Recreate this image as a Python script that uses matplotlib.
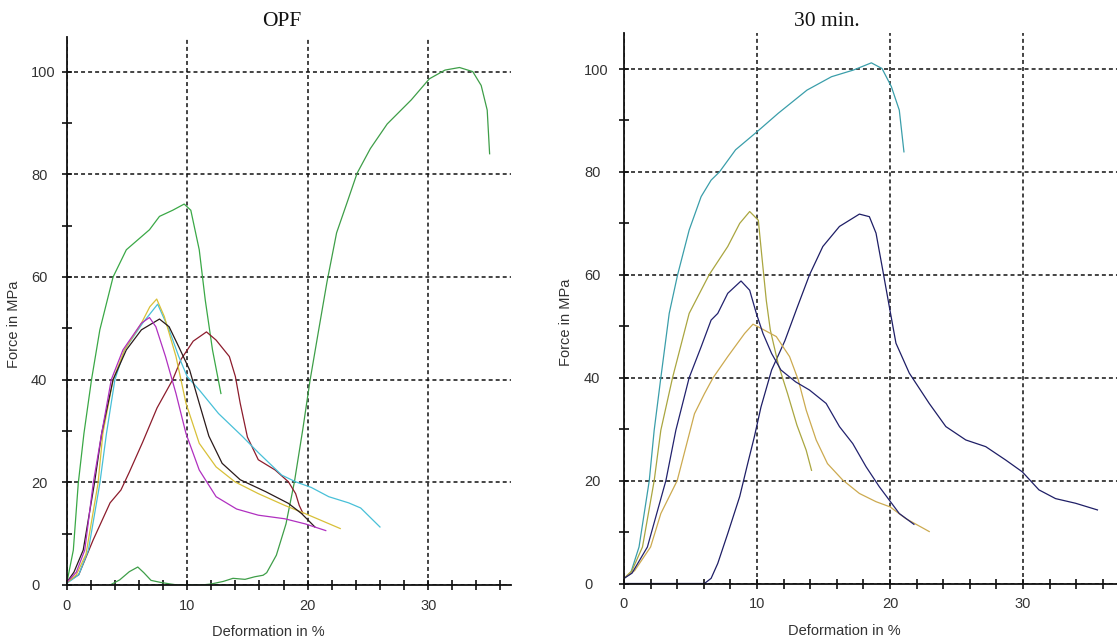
import matplotlib
matplotlib.use("Agg")
import matplotlib.pyplot as plt
from matplotlib.ticker import FixedLocator, NullFormatter

# ---------------- OPF panel ----------------
opf_green_a_x = [0, 0.55, 0.96, 1.43, 2.06, 2.75, 3.85, 4.95, 6.87, 7.7, 8.8, 9.75, 10.3, 11.0, 11.5, 12.1, 12.8]
opf_green_a_y = [0.3, 6.8, 19.8, 29.5, 40, 49.7, 60, 65.3, 69.2, 71.8, 73, 74.2, 73, 65.3, 55.5, 45.8, 37.3]

opf_green_b_x = [3.6, 4.4, 5.2, 5.9, 6.4, 7.0, 7.8, 8.6, 9.2, 11.2, 12.0, 13.0, 13.8, 14.8, 15.6, 16.3,
                 16.6, 17.4, 18.2, 18.9, 19.6, 20.2, 20.9, 21.6, 22.4, 23.3, 24.1, 25.2, 26.6, 28.6,
                 30.1, 31.4, 32.6, 33.7, 34.4, 34.9, 35.1]
opf_green_b_y = [0, 1.0, 2.6, 3.5, 2.4, 0.9, 0.5, 0.2, 0, 0, 0.2, 0.7, 1.3, 1.1, 1.6, 1.9,
                 2.4, 5.8, 11.9, 20.1, 30.4, 39.9, 49.5, 59, 68.6, 74.7, 80.2, 85, 89.8, 94.5,
                 98.6, 100.3, 100.8, 100, 97.3, 92.5, 84]

opf_black_x = [0, 0.6, 1.37, 2.3, 2.9, 3.85, 4.95, 6.2, 7.7, 8.5, 9.3, 10.2, 11.0, 11.8, 12.9, 14.4,
               16.5, 18.4, 19.5, 20.6]
opf_black_y = [0.5, 2.5, 6.8, 19.8, 29.5, 40, 45.8, 49.7, 51.8, 50.3, 46.4, 41.9, 35.4, 29, 23.7, 20.5,
               18.2, 15.9, 13.9, 11.3]

opf_magenta_x = [0, 0.8, 1.5, 2.2, 2.9, 3.7, 4.67, 6.2, 6.87, 7.4, 8.2, 9.07, 9.9, 11.0, 12.4, 14.1,
                 15.9, 18.1, 19.8, 21.5]
opf_magenta_y = [0.5, 2.5, 6.8, 19.8, 29.5, 40, 45.8, 51, 52.1, 50.3, 44.5, 37.3, 29.5, 22.4, 17.2, 14.8,
                 13.6, 12.9, 11.9, 10.6]

opf_yellow_x = [0, 0.8, 1.6, 2.6, 3.0, 3.85, 4.8, 6.2, 6.9, 7.47, 8.1, 9.07, 9.9, 11.0, 12.4, 13.96,
                15.9, 18.1, 19.8, 22.7]
opf_yellow_y = [0.4, 2.0, 6.0, 19.8, 29.5, 40, 45.8, 51, 54.2, 55.7, 52.3, 44.5, 35.4, 27.6, 23, 20.1,
                17.8, 15.5, 13.9, 11.0]

opf_cyan_x = [0, 1.0, 1.8, 2.75, 3.3, 4.0, 4.8, 6.3, 7.55, 8.5, 9.3, 10.0, 11.0, 12.6, 14.6, 15.9,
              17.85, 19.0, 20.3, 21.75, 23.4, 24.4, 26.0]
opf_cyan_y = [0.3, 2.0, 6.8, 19.8, 29.5, 40, 45.8, 51, 54.7, 49.7, 44.5, 40.6, 38, 33.4, 28.9, 25.8,
              21.4, 20.1, 19.0, 17.2, 16.0, 15.0, 11.3]

opf_red_x = [0, 1.0, 2.2, 3.6, 4.5, 5.2, 6.3, 7.5, 8.8, 9.5, 10.5, 11.6, 12.4, 13.5, 14.0, 14.4,
             15.0, 15.9, 17.3, 18.4, 19.0, 19.3, 19.6]
opf_red_y = [0.5, 2.0, 8.8, 16, 18.5, 22, 27.8, 34.5, 40, 44, 47.5, 49.3, 47.7, 44.5, 40.6, 35.4,
             28.8, 24.4, 22.4, 20.1, 17.8, 15.5, 14.0]

# ---------------- 30 min. panel ----------------
m30_teal_x = [0, 0.5, 1.13, 1.9, 2.27, 2.77, 3.4, 4.03, 4.9, 5.8, 6.55, 7.18, 8.39, 10.0, 11.6, 13.76,
              15.6, 17.25, 18.6, 19.4, 20.1, 20.7, 21.05]
m30_teal_y = [1.0, 2.0, 7.1, 20, 29.8, 40, 52.5, 60, 68.7, 75.2, 78.4, 80.0, 84.3, 87.8, 91.4, 95.9,
              98.5, 99.8, 101.2, 100.1, 96.6, 92, 83.9]

m30_olive_x = [0, 0.6, 1.39, 2.27, 2.77, 3.65, 4.9, 6.4, 7.8, 8.7, 9.45, 10.1, 10.35, 10.7, 11.0,
               11.6, 12.3, 13.0, 13.7, 14.1]
m30_olive_y = [1.0, 2.5, 7.1, 20, 29.8, 40, 52.5, 60, 65.5, 70, 72.3, 70.6, 64, 55, 49.3,
               42.6, 36.9, 30.8, 25.9, 22.0]

m30_navy_a_x = [0, 0.6, 1.76, 3.15, 3.9, 4.9, 5.8, 6.55, 7.05, 7.8, 8.8, 9.45, 9.95, 10.45, 11.1, 11.8,
                12.9, 13.95, 15.2, 16.2, 17.2, 18.2, 19.2, 19.95, 20.7, 21.8]
m30_navy_a_y = [1.0, 2.0, 7.1, 20, 29.8, 40, 46, 51.2, 52.5, 56.4, 58.8, 57, 52.5, 48.6, 44.7, 41.5,
                39.2, 37.6, 35, 30.5, 27.2, 22.7, 18.8, 16.2, 13.6, 11.5]

m30_tan_x = [0, 0.8, 2.0, 2.77, 4.0, 4.66, 5.3, 6.05, 6.7, 7.8, 9.07, 9.7, 10.3, 11.45, 12.45, 13.1,
             13.7, 14.45, 15.3, 16.45, 17.7, 18.95, 20.0, 21.2, 22.95]
m30_tan_y = [1.0, 2.5, 7.1, 13.6, 20, 26.6, 33, 36.9, 40, 44.1, 48.6, 50.4, 49.6, 48, 44.1, 39.6,
             33.7, 27.9, 23.3, 20.1, 17.5, 15.9, 14.9, 12.6, 10.1]

m30_navy_b_x = [0, 6.05, 6.55, 7.05, 7.8, 8.7, 9.3, 9.8, 10.3, 11.1, 12.1, 13.0, 13.95, 14.95, 16.2,
                17.7, 18.45, 18.95, 19.45, 19.95, 20.45, 21.45, 22.95, 24.2, 25.7, 27.2, 28.7, 29.95,
                31.2, 32.45, 33.95, 35.6]
m30_navy_b_y = [0, 0, 1, 3.9, 9.7, 16.9, 23.3, 28.5, 34.3, 41.5, 47.2, 53.5, 60, 65.5, 69.4,
                71.8, 71.3, 68.1, 61, 53.8, 46.7, 40.9, 35, 30.5, 27.9, 26.6, 24, 21.7,
                18.2, 16.5, 15.6, 14.3]

x_major = [0, 10, 20, 30]
x_minor = list(range(2, 38, 2))
y_major = [0, 20, 40, 60, 80, 100]
y_minor = [10, 30, 50, 70, 90]

W, H = 1117, 641
fig = plt.figure(figsize=(W / 100, H / 100), dpi=100)

SANS = "Liberation Sans"
SERIF = "Liberation Serif"
TXT = "#333333"
LW = 0.9


def px_axes(x0, x1, y_top, y_bot):
    return fig.add_axes([x0 / W, (H - y_bot) / H, (x1 - x0) / W, (y_bot - y_top) / H])


def style(ax, xmax, ymax, ylab_pad):
    ax.set_xlim(0, xmax)
    ax.set_ylim(0, ymax)
    for s in ("top", "right"):
        ax.spines[s].set_visible(False)
    for s in ("left", "bottom"):
        ax.spines[s].set_linewidth(1.3)
        ax.spines[s].set_color("#111111")
    ax.xaxis.set_major_locator(FixedLocator(x_major))
    ax.xaxis.set_minor_locator(FixedLocator([v for v in x_minor if v not in x_major and v <= xmax]))
    ax.yaxis.set_major_locator(FixedLocator(y_major))
    ax.yaxis.set_minor_locator(FixedLocator(y_minor))
    ax.xaxis.set_minor_formatter(NullFormatter())
    ax.yaxis.set_minor_formatter(NullFormatter())
    ax.tick_params(which="both", direction="inout", length=7, width=1.2, color="#111111")
    ax.tick_params(axis="x", which="major", pad=6.5, labelsize=10.5, labelcolor=TXT)
    ax.tick_params(axis="y", which="major", pad=ylab_pad, labelsize=10.5, labelcolor=TXT)
    for lbl in ax.get_yticklabels():
        lbl.set_horizontalalignment("left")
        lbl.set_fontfamily(SANS)
    for lbl in ax.get_xticklabels():
        lbl.set_fontfamily(SANS)
    ax.grid(True, which="major", color="#111111", linewidth=1.1, linestyle=(0, (2.6, 2.0)))
    ax.set_axisbelow(True)
    ax.patch.set_alpha(0)


# OPF axes
ax1 = px_axes(66.7, 510.7, 36.7, 585.0)
style(ax1, 36.85, 106.8, 22.2)
ax1.plot(opf_green_b_x, opf_green_b_y, color="#3e9e48", lw=LW)
ax1.plot(opf_green_a_x, opf_green_a_y, color="#3aa846", lw=LW)
ax1.plot(opf_red_x, opf_red_y, color="#8c1c2c", lw=LW)
ax1.plot(opf_cyan_x, opf_cyan_y, color="#48c0d8", lw=LW)
ax1.plot(opf_yellow_x, opf_yellow_y, color="#d8c038", lw=LW)
ax1.plot(opf_black_x, opf_black_y, color="#2a1a1a", lw=LW)
ax1.plot(opf_magenta_x, opf_magenta_y, color="#b030c0", lw=LW)

# 30 min. axes
ax2 = px_axes(624.0, 1117.0, 33.0, 583.5)
style(ax2, 37.07, 107.0, 25.3)
ax2.plot(m30_navy_b_x, m30_navy_b_y, color="#1e1e66", lw=LW)
ax2.plot(m30_teal_x, m30_teal_y, color="#3a9eaa", lw=LW)
ax2.plot(m30_olive_x, m30_olive_y, color="#aaa640", lw=LW)
ax2.plot(m30_tan_x, m30_tan_y, color="#ccaa50", lw=LW)
ax2.plot(m30_navy_a_x, m30_navy_a_y, color="#22226e", lw=LW)

# titles and axis labels
fig.text(282 / W, 1 - 21 / H, "OPF", family=SERIF, fontsize=15.5, color="#111111", ha="center", va="center")
fig.text(827 / W, 1 - 22 / H, "30 min.", family=SERIF, fontsize=15.5, color="#111111", ha="center", va="center")
fig.text(268 / W, 1 - 632 / H, "Deformation in %", family=SANS, fontsize=10.5, color=TXT, ha="center", va="center")
fig.text(844.5 / W, 1 - 631 / H, "Deformation in %", family=SANS, fontsize=10.5, color=TXT, ha="center", va="center")
fig.text(14 / W, 1 - 324 / H, "Force in MPa", family=SANS, fontsize=10.5, color=TXT, rotation=90, ha="center", va="center")
fig.text(566 / W, 1 - 322 / H, "Force in MPa", family=SANS, fontsize=10.5, color=TXT, rotation=90, ha="center", va="center")

fig.savefig("out.png", dpi=100, facecolor="white")
